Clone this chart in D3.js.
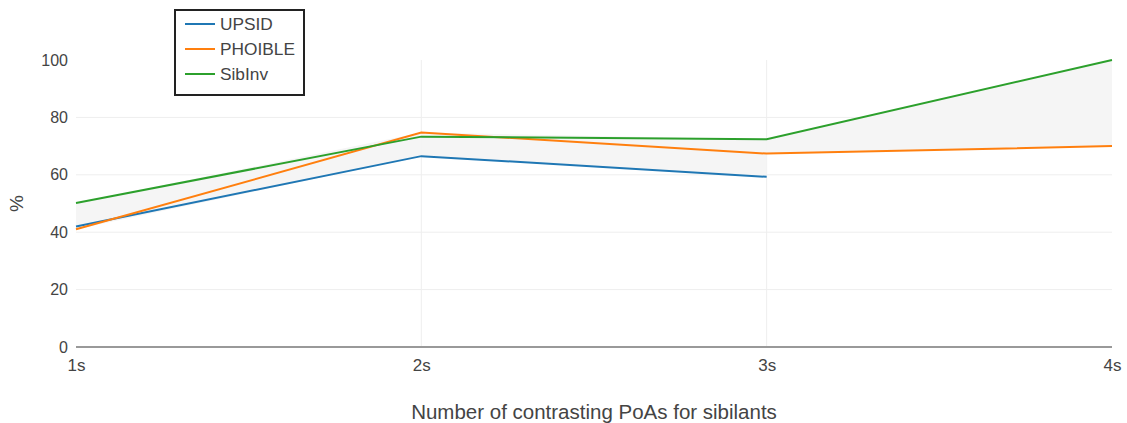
<!DOCTYPE html>
<html>
<head>
<meta charset="utf-8">
<script src="https://cdn.jsdelivr.net/npm/d3@7"></script>
<style>
  html, body { margin: 0; padding: 0; background: #fff; }
  svg text { font-family: "Liberation Sans", Arial, sans-serif; }
</style>
</head>
<body>
<svg id="chart" width="1127" height="423"></svg>
<script>
const categories = ["1s", "2s", "3s", "4s"];
const upsid = [42, 66.5, 59.3, null];
const phoible = [41, 74.7, 67.4, 70];
const sibinv = [50.2, 73.3, 72.4, 100];
const yTicks = [0, 20, 40, 60, 80, 100];
const seriesNames = ["UPSID", "PHOIBLE", "SibInv"];
const seriesColors = ["#1f77b4", "#ff7f0e", "#2ca02c"];

const series = [upsid, phoible, sibinv];
const svg = d3.select("#chart");
const margin = {left: 76, right: 15, top: 60, bottom: 76};
const W = 1127, H = 423;

const x = d3.scalePoint().domain(categories).range([margin.left, W - margin.right]);
const y = d3.scaleLinear().domain([0, 100]).range([H - margin.bottom, margin.top]);

// gridlines
const grid = svg.append("g");
grid.selectAll("line.h").data(yTicks.filter(d => d > 0 && d < 100)).enter().append("line")
  .attr("x1", x(categories[0])).attr("x2", x(categories[categories.length - 1]))
  .attr("y1", d => y(d)).attr("y2", d => y(d))
  .attr("stroke", "#eee").attr("stroke-width", 1);
grid.selectAll("line.v").data(categories.slice(1, -1)).enter().append("line")
  .attr("x1", d => x(d)).attr("x2", d => x(d))
  .attr("y1", y(100)).attr("y2", y(0))
  .attr("stroke", "#eee").attr("stroke-width", 1);

// band: per segment, min..max of series present at both ends
const bandGroup = svg.append("g");
for (let i = 0; i < categories.length - 1; i++) {
  const present = series.filter(s => s[i] != null && s[i + 1] != null);
  const pts = [i, i + 1].map(j => ({
    c: categories[j],
    lo: d3.min(present, s => s[j]),
    hi: d3.max(present, s => s[j])
  }));
  const area = d3.area().x(d => x(d.c)).y0(d => y(d.lo)).y1(d => y(d.hi));
  bandGroup.append("path").attr("d", area(pts)).attr("fill", "#f5f5f5");
}

// zero line
svg.append("line")
  .attr("x1", x(categories[0])).attr("x2", x(categories[categories.length - 1]))
  .attr("y1", y(0)).attr("y2", y(0))
  .attr("stroke", "#999").attr("stroke-width", 2);

// y axis
const yAxis = d3.axisLeft(y).tickValues(yTicks).tickSize(0).tickPadding(8);
const yg = svg.append("g").attr("transform", `translate(${margin.left},0)`).call(yAxis);
yg.select(".domain").remove();
yg.selectAll("text").attr("font-size", 16).attr("fill", "#444")
  .attr("font-family", "Liberation Sans, Arial, sans-serif");

// x axis
const xAxis = d3.axisBottom(x).tickSize(0).tickPadding(12);
const xg = svg.append("g").attr("transform", `translate(0,${y(0)})`).call(xAxis);
xg.select(".domain").remove();
xg.selectAll("text").attr("font-size", 17).attr("fill", "#444")
  .attr("font-family", "Liberation Sans, Arial, sans-serif");

// axis titles
svg.append("text").attr("x", (x(categories[0]) + x(categories[3])) / 2).attr("y", 419)
  .attr("text-anchor", "middle").attr("font-size", 20.5).attr("fill", "#444")
  .text("Number of contrasting PoAs for sibilants");
svg.append("text").attr("transform", `translate(23,${(y(0) + y(100)) / 2}) rotate(-90)`)
  .attr("text-anchor", "middle").attr("font-size", 19).attr("fill", "#444")
  .text("%");

// lines
const line = d3.line().defined(d => d.v != null).x(d => x(d.c)).y(d => y(d.v));
series.forEach((s, i) => {
  svg.append("path")
    .attr("d", line(s.map((v, j) => ({c: categories[j], v}))))
    .attr("fill", "none").attr("stroke", seriesColors[i]).attr("stroke-width", 2);
});

// legend
const lg = svg.append("g").attr("transform", "translate(175,10)");
lg.append("rect").attr("x", 0).attr("y", 0).attr("width", 129).attr("height", 85)
  .attr("fill", "#fff").attr("stroke", "#222").attr("stroke-width", 2);
seriesNames.forEach((n, i) => {
  const yy = 14 + i * 25;
  lg.append("line").attr("x1", 10).attr("x2", 40).attr("y1", yy).attr("y2", yy)
    .attr("stroke", seriesColors[i]).attr("stroke-width", 2);
  lg.append("text").attr("x", 45).attr("y", yy + 6).attr("font-size", 17.3).attr("fill", "#444").text(n);
});
</script>
</body>
</html>
